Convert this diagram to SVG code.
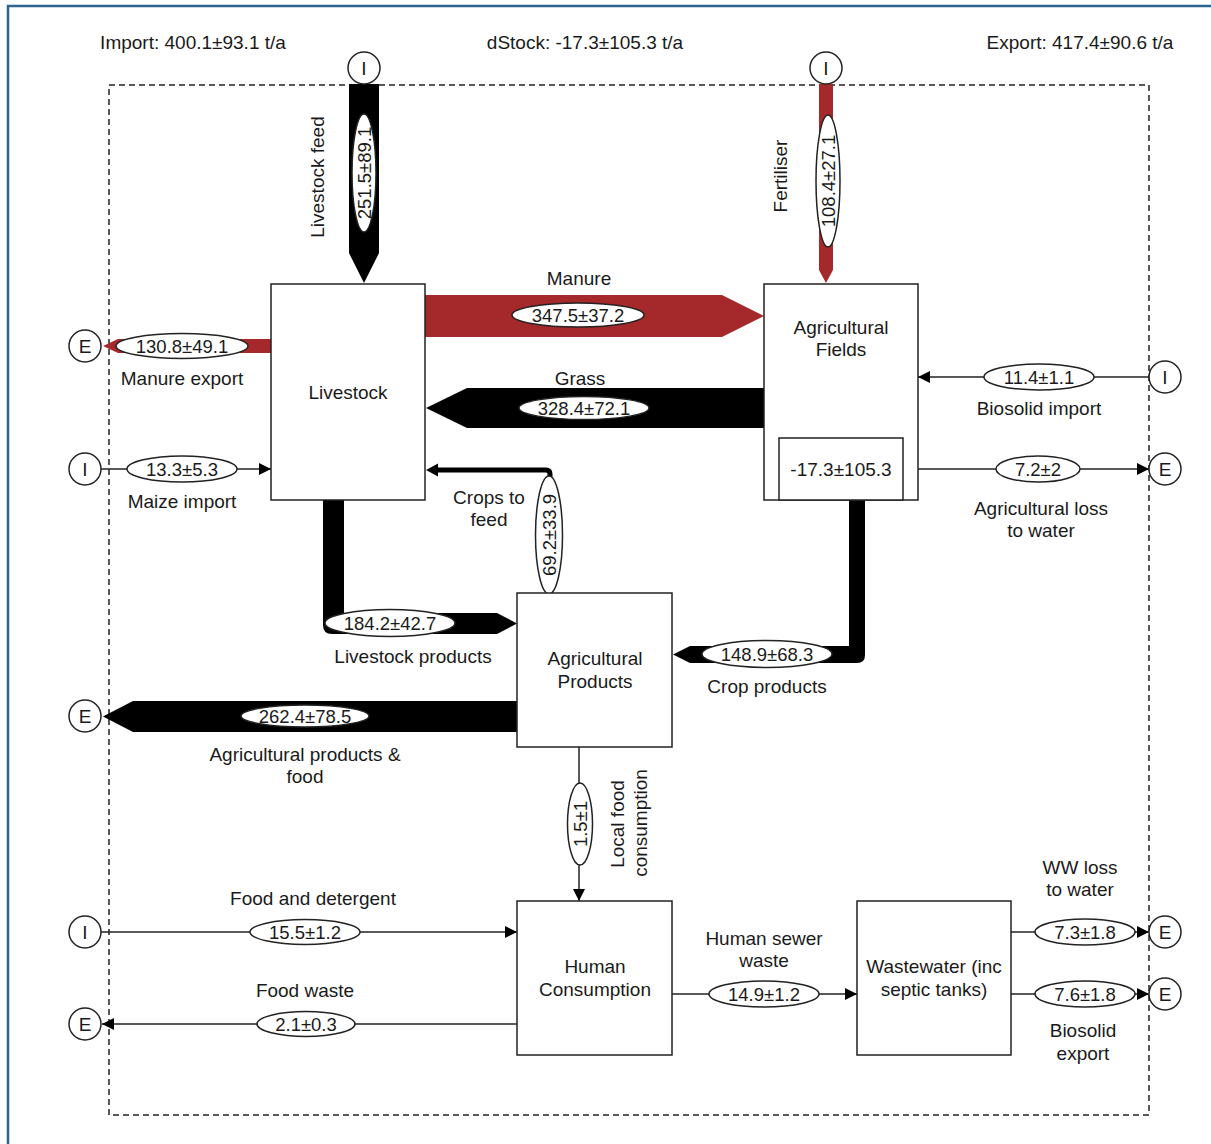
<svg xmlns="http://www.w3.org/2000/svg" width="1211" height="1144" viewBox="0 0 1211 1144">
<defs>
<style>
text{font-family:"Liberation Sans",Arial,sans-serif;font-size:19px;fill:#1a1a1a;text-anchor:middle;dominant-baseline:central}
.num{font-size:18.5px}
.box{fill:#fff;stroke:#222;stroke-width:1.5}
.lbl{fill:#fff;stroke:#222;stroke-width:1.5}
.thin{fill:none;stroke:#222;stroke-width:1.5}
.red{fill:#a5292a}
.blk{fill:#000}
.circ{fill:#fff;stroke:#222;stroke-width:1.5}
</style>
<marker id="ah" viewBox="0 0 12 12" refX="12" refY="6" markerWidth="12" markerHeight="12" markerUnits="userSpaceOnUse" orient="auto">
<path d="M0,0 L12,6 L0,12 Z" fill="#000"/>
</marker>
</defs>
<rect width="1211" height="1144" fill="#fff"/>
<path d="M8,1144 V6 H1211" fill="none" stroke="#2b6590" stroke-width="2.5"/>
<rect x="109" y="85" width="1040" height="1030" fill="none" stroke="#222" stroke-width="1.5" stroke-dasharray="6 4"/>

<g id="totals">
<text x="193" y="42">Import: 400.1±93.1 t/a</text>
<text x="585" y="42">dStock: -17.3±105.3 t/a</text>
<text x="1080" y="42">Export: 417.4±90.6 t/a</text>
</g>

<g id="connectors">
<path class="blk" d="M349,84 L379,84 L379,253 L364,283 L349,253 Z"/>
<path class="red" d="M819,84 L833,84 L833,270 L826,283 L819,270 Z"/>
<path class="red" d="M425,295 L722,295 L764,316 L722,337 L425,337 Z"/>
<path class="blk" d="M764,388 L467,388 L426,408 L467,428 L764,428 Z"/>
<path class="red" d="M271,339 L118,339 L103,346 L118,353 L271,353 Z"/>
<path class="blk" d="M323,500 L344,500 L344,613 L497,613 L517,623.5 L497,634 L332,634 Q323,634 323,625 Z"/>
<path class="blk" d="M849,500 L865,500 L865,655 Q865,663 857,663 L690,663 L673,654.5 L690,646 L849,646 Z"/>
<path class="blk" d="M517,701 L133,701 L103,716.5 L133,732 L517,732 Z"/>
<path d="M550,593 L550,474 Q550,470 546,470 L436,470" fill="none" stroke="#000" stroke-width="5"/>
<path d="M438,463.5 L426,470 L438,476.5 Z" fill="#000"/>
<line class="thin" x1="101" y1="469" x2="271" y2="469" marker-end="url(#ah)"/>
<line class="thin" x1="1149" y1="377" x2="918" y2="377" marker-end="url(#ah)"/>
<line class="thin" x1="918" y1="469" x2="1149" y2="469" marker-end="url(#ah)"/>
<line class="thin" x1="579" y1="747" x2="579" y2="901" marker-end="url(#ah)"/>
<line class="thin" x1="101" y1="932" x2="517" y2="932" marker-end="url(#ah)"/>
<line class="thin" x1="517" y1="1024" x2="102" y2="1024" marker-end="url(#ah)"/>
<line class="thin" x1="672" y1="994" x2="857" y2="994" marker-end="url(#ah)"/>
<line class="thin" x1="1011" y1="932" x2="1149" y2="932" marker-end="url(#ah)"/>
<line class="thin" x1="1011" y1="994" x2="1149" y2="994" marker-end="url(#ah)"/>

<ellipse class="lbl" cx="364" cy="173" rx="12" ry="59"/>
<text class="num" transform="translate(364,173) rotate(-90)">251.5±89.1</text>
<ellipse class="lbl" cx="828" cy="181" rx="12" ry="66"/>
<text class="num" transform="translate(828,181) rotate(-90)">108.4±27.1</text>
<ellipse class="lbl" cx="578" cy="315" rx="66" ry="12"/>
<text class="num" x="578" y="315">347.5±37.2</text>
<ellipse class="lbl" cx="584" cy="408" rx="65" ry="11.5"/>
<text class="num" x="584" y="408">328.4±72.1</text>
<ellipse class="lbl" cx="182" cy="346" rx="66" ry="12.5"/>
<text class="num" x="182" y="346">130.8±49.1</text>
<ellipse class="lbl" cx="182" cy="469" rx="55" ry="13"/>
<text class="num" x="182" y="469">13.3±5.3</text>
<ellipse class="lbl" cx="1039" cy="377" rx="55" ry="13"/>
<text class="num" x="1039" y="377">11.4±1.1</text>
<ellipse class="lbl" cx="1038" cy="469" rx="42" ry="13"/>
<text class="num" x="1038" y="469">7.2±2</text>
<ellipse class="lbl" cx="549" cy="535" rx="13.5" ry="59"/>
<text class="num" transform="translate(549,535) rotate(-90)">69.2±33.9</text>
<ellipse class="lbl" cx="390" cy="623" rx="65" ry="13.5"/>
<text class="num" x="390" y="623">184.2±42.7</text>
<ellipse class="lbl" cx="767" cy="654" rx="65" ry="13.5"/>
<text class="num" x="767" y="654">148.9±68.3</text>
<ellipse class="lbl" cx="305" cy="716" rx="64" ry="11"/>
<text class="num" x="305" y="716">262.4±78.5</text>
<ellipse class="lbl" cx="580" cy="824" rx="12.5" ry="41"/>
<text class="num" transform="translate(580,824) rotate(-90)">1.5±1</text>
<ellipse class="lbl" cx="305" cy="932" rx="55" ry="12.5"/>
<text class="num" x="305" y="932">15.5±1.2</text>
<ellipse class="lbl" cx="306" cy="1024" rx="49" ry="12.5"/>
<text class="num" x="306" y="1024">2.1±0.3</text>
<ellipse class="lbl" cx="764" cy="994" rx="55" ry="13"/>
<text class="num" x="764" y="994">14.9±1.2</text>
<ellipse class="lbl" cx="1085" cy="932" rx="50" ry="13"/>
<text class="num" x="1085" y="932">7.3±1.8</text>
<ellipse class="lbl" cx="1085" cy="994" rx="50" ry="13"/>
<text class="num" x="1085" y="994">7.6±1.8</text>

<text transform="translate(317,177) rotate(-90)">Livestock feed</text>
<text transform="translate(780,176) rotate(-90)">Fertiliser</text>
<text x="579" y="278">Manure</text>
<text x="580" y="378">Grass</text>
<text x="182" y="378">Manure export</text>
<text x="182" y="501">Maize import</text>
<text x="1039" y="408">Biosolid import</text>
<text x="1041" y="508">Agricultural loss</text>
<text x="1041" y="530">to water</text>
<text x="489" y="497">Crops to</text>
<text x="489" y="519">feed</text>
<text x="413" y="656">Livestock products</text>
<text x="767" y="686">Crop products</text>
<text x="305" y="754">Agricultural products &amp;</text>
<text x="305" y="776">food</text>
<text transform="translate(617,824) rotate(-90)">Local food</text>
<text transform="translate(640,823) rotate(-90)">consumption</text>
<text x="313" y="898">Food and detergent</text>
<text x="305" y="990">Food waste</text>
<text x="764" y="938">Human sewer</text>
<text x="764" y="960">waste</text>
<text x="1080" y="867">WW loss</text>
<text x="1080" y="889">to water</text>
<text x="1083" y="1030">Biosolid</text>
<text x="1083" y="1053">export</text>
</g>

<g id="livestock">
<rect class="box" x="271" y="284" width="154" height="216"/>
<text x="348" y="392">Livestock</text>
</g>
<g id="agricultural-fields">
<rect class="box" x="764" y="284" width="154" height="216"/>
<text x="841" y="327">Agricultural</text>
<text x="841" y="349">Fields</text>
<rect class="box" x="779" y="438" width="124" height="62"/>
<text x="841" y="469">-17.3±105.3</text>
</g>
<g id="agricultural-products">
<rect class="box" x="517" y="593" width="155" height="154"/>
<text x="595" y="658">Agricultural</text>
<text x="595" y="681">Products</text>
</g>
<g id="human-consumption">
<rect class="box" x="517" y="901" width="155" height="154"/>
<text x="595" y="966">Human</text>
<text x="595" y="989">Consumption</text>
</g>
<g id="wastewater">
<rect class="box" x="857" y="901" width="154" height="154"/>
<text x="934" y="966">Wastewater (inc</text>
<text x="934" y="989">septic tanks)</text>
</g>

<g id="import-livestock-feed"><circle class="circ" cx="364" cy="68" r="16"/><text x="364" y="68">I</text></g>
<g id="import-fertiliser"><circle class="circ" cx="826" cy="68" r="16"/><text x="826" y="68">I</text></g>
<g id="export-manure"><circle class="circ" cx="85" cy="346" r="16"/><text x="85" y="346">E</text></g>
<g id="import-maize"><circle class="circ" cx="85" cy="469" r="16"/><text x="85" y="469">I</text></g>
<g id="export-agri-products"><circle class="circ" cx="85" cy="716" r="16"/><text x="85" y="716">E</text></g>
<g id="import-food"><circle class="circ" cx="85" cy="932" r="16"/><text x="85" y="932">I</text></g>
<g id="export-food-waste"><circle class="circ" cx="85" cy="1024" r="16"/><text x="85" y="1024">E</text></g>
<g id="import-biosolid"><circle class="circ" cx="1165" cy="377" r="16"/><text x="1165" y="377">I</text></g>
<g id="export-agri-loss"><circle class="circ" cx="1165" cy="469" r="16"/><text x="1165" y="469">E</text></g>
<g id="export-ww-loss"><circle class="circ" cx="1165" cy="932" r="16"/><text x="1165" y="932">E</text></g>
<g id="export-biosolid"><circle class="circ" cx="1165" cy="994" r="16"/><text x="1165" y="994">E</text></g>
</svg>
